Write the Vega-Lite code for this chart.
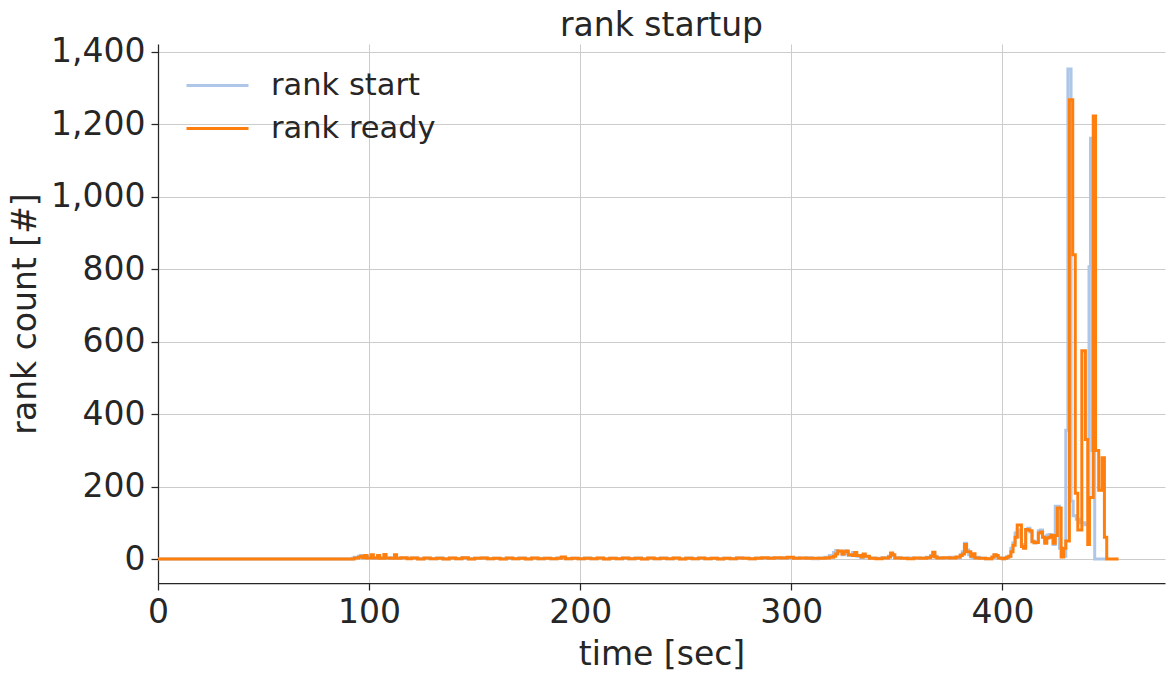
{
  "$schema": "https://vega.github.io/schema/vega-lite/v6.json",
  "autosize": {"type": "none"},
  "padding": {"left": 158, "top": 44, "right": 10, "bottom": 95},
  "width": 1007,
  "height": 539,
  "background": "white",
  "title": {"text": "rank startup", "fontSize": 33, "font": "DejaVu Sans", "fontWeight": "normal", "color": "#262626", "offset": -7},
  "datasets": {
    "start": [
      {"t":0,"n":0},{"t":92,"n":2},{"t":93,"n":5},{"t":95,"n":8},{"t":96,"n":10},{"t":97,"n":6},{"t":98,"n":3},{"t":99,"n":8},{"t":101,"n":4},{"t":102,"n":2},{"t":104,"n":6},{"t":105,"n":3},{"t":107,"n":5},{"t":108,"n":2},{"t":110,"n":3},{"t":112,"n":5},{"t":113,"n":2},{"t":115,"n":3},{"t":118,"n":2},{"t":120,"n":3},{"t":123,"n":1},{"t":126,"n":2},{"t":129,"n":1},{"t":132,"n":3},{"t":135,"n":1},{"t":138,"n":2},{"t":141,"n":1},{"t":144,"n":3},{"t":147,"n":1},{"t":150,"n":2},{"t":153,"n":3},{"t":156,"n":1},{"t":159,"n":2},{"t":162,"n":1},{"t":165,"n":2},{"t":168,"n":1},{"t":171,"n":3},{"t":174,"n":1},{"t":177,"n":2},{"t":180,"n":1},{"t":183,"n":2},{"t":186,"n":1},{"t":189,"n":3},{"t":191,"n":4},{"t":193,"n":1},{"t":196,"n":2},{"t":199,"n":1},{"t":202,"n":3},{"t":205,"n":1},{"t":208,"n":2},{"t":211,"n":1},{"t":214,"n":2},{"t":217,"n":1},{"t":220,"n":2},{"t":223,"n":1},{"t":226,"n":3},{"t":229,"n":1},{"t":232,"n":2},{"t":235,"n":1},{"t":238,"n":3},{"t":241,"n":1},{"t":244,"n":2},{"t":247,"n":1},{"t":250,"n":3},{"t":253,"n":1},{"t":256,"n":2},{"t":259,"n":1},{"t":262,"n":2},{"t":265,"n":1},{"t":268,"n":2},{"t":271,"n":1},{"t":274,"n":3},{"t":277,"n":2},{"t":280,"n":1},{"t":283,"n":3},{"t":286,"n":2},{"t":289,"n":3},{"t":292,"n":2},{"t":295,"n":4},{"t":298,"n":2},{"t":301,"n":3},{"t":304,"n":2},{"t":307,"n":4},{"t":310,"n":1},{"t":313,"n":3},{"t":316,"n":5},{"t":318,"n":10},{"t":320,"n":18},{"t":321,"n":24},{"t":322,"n":20},{"t":324,"n":12},{"t":325,"n":22},{"t":326,"n":15},{"t":327,"n":10},{"t":329,"n":18},{"t":330,"n":12},{"t":331,"n":8},{"t":333,"n":4},{"t":334,"n":12},{"t":335,"n":6},{"t":337,"n":3},{"t":340,"n":2},{"t":343,"n":4},{"t":346,"n":8},{"t":347,"n":15},{"t":348,"n":10},{"t":349,"n":4},{"t":352,"n":2},{"t":355,"n":3},{"t":358,"n":2},{"t":361,"n":3},{"t":364,"n":5},{"t":366,"n":10},{"t":367,"n":17},{"t":368,"n":8},{"t":369,"n":4},{"t":372,"n":3},{"t":375,"n":5},{"t":378,"n":4},{"t":380,"n":12},{"t":381,"n":20},{"t":382,"n":44},{"t":383,"n":25},{"t":384,"n":12},{"t":385,"n":6},{"t":386,"n":3},{"t":387,"n":5},{"t":389,"n":2},{"t":392,"n":1},{"t":395,"n":4},{"t":396,"n":11},{"t":397,"n":6},{"t":398,"n":3},{"t":399,"n":2},{"t":400,"n":1},{"t":401,"n":3},{"t":402,"n":6},{"t":403,"n":8},{"t":404,"n":30},{"t":405,"n":45},{"t":406,"n":72},{"t":407,"n":80},{"t":408,"n":62},{"t":409,"n":40},{"t":410,"n":35},{"t":411,"n":82},{"t":412,"n":85},{"t":413,"n":75},{"t":414,"n":50},{"t":415,"n":45},{"t":416,"n":48},{"t":417,"n":78},{"t":418,"n":80},{"t":419,"n":62},{"t":420,"n":50},{"t":421,"n":66},{"t":422,"n":68},{"t":423,"n":60},{"t":424,"n":40},{"t":425,"n":146},{"t":427,"n":30},{"t":428,"n":10},{"t":429,"n":8},{"t":430,"n":356},{"t":431,"n":1353},{"t":432.5,"n":160},{"t":433.5,"n":120},{"t":435,"n":110},{"t":437,"n":100},{"t":439,"n":95},{"t":441,"n":807},{"t":441.7,"n":1162},{"t":442.5,"n":300},{"t":443.7,"n":0},{"t":449,"n":0}
    ],
    "ready": [
      {"t":0,"n":0},{"t":93,"n":3},{"t":95,"n":5},{"t":96,"n":8},{"t":97,"n":4},{"t":98,"n":10},{"t":99,"n":3},{"t":101,"n":12},{"t":102,"n":3},{"t":104,"n":10},{"t":105,"n":2},{"t":107,"n":13},{"t":108,"n":3},{"t":110,"n":2},{"t":112,"n":12},{"t":113,"n":2},{"t":115,"n":4},{"t":118,"n":1},{"t":120,"n":3},{"t":123,"n":0},{"t":126,"n":3},{"t":129,"n":1},{"t":132,"n":2},{"t":135,"n":0},{"t":138,"n":3},{"t":141,"n":1},{"t":144,"n":4},{"t":147,"n":0},{"t":150,"n":2},{"t":153,"n":3},{"t":156,"n":1},{"t":159,"n":2},{"t":162,"n":0},{"t":165,"n":3},{"t":168,"n":1},{"t":171,"n":2},{"t":174,"n":0},{"t":177,"n":3},{"t":180,"n":1},{"t":183,"n":2},{"t":186,"n":1},{"t":189,"n":2},{"t":191,"n":6},{"t":193,"n":1},{"t":196,"n":2},{"t":199,"n":1},{"t":202,"n":2},{"t":205,"n":1},{"t":208,"n":3},{"t":211,"n":0},{"t":214,"n":2},{"t":217,"n":1},{"t":220,"n":3},{"t":223,"n":1},{"t":226,"n":2},{"t":229,"n":0},{"t":232,"n":3},{"t":235,"n":1},{"t":238,"n":2},{"t":241,"n":1},{"t":244,"n":3},{"t":247,"n":0},{"t":250,"n":2},{"t":253,"n":1},{"t":256,"n":3},{"t":259,"n":1},{"t":262,"n":2},{"t":265,"n":0},{"t":268,"n":2},{"t":271,"n":1},{"t":274,"n":3},{"t":277,"n":2},{"t":280,"n":1},{"t":283,"n":2},{"t":286,"n":4},{"t":289,"n":2},{"t":292,"n":4},{"t":295,"n":3},{"t":298,"n":5},{"t":301,"n":2},{"t":304,"n":3},{"t":307,"n":2},{"t":310,"n":2},{"t":313,"n":2},{"t":316,"n":3},{"t":318,"n":5},{"t":320,"n":8},{"t":321,"n":14},{"t":322,"n":22},{"t":324,"n":14},{"t":325,"n":20},{"t":326,"n":22},{"t":327,"n":12},{"t":329,"n":10},{"t":330,"n":18},{"t":331,"n":10},{"t":333,"n":6},{"t":334,"n":14},{"t":335,"n":8},{"t":337,"n":2},{"t":340,"n":1},{"t":343,"n":3},{"t":346,"n":6},{"t":347,"n":17},{"t":348,"n":12},{"t":349,"n":3},{"t":352,"n":2},{"t":355,"n":1},{"t":358,"n":3},{"t":361,"n":2},{"t":364,"n":4},{"t":366,"n":8},{"t":367,"n":19},{"t":368,"n":6},{"t":369,"n":3},{"t":372,"n":4},{"t":375,"n":3},{"t":378,"n":6},{"t":380,"n":10},{"t":381,"n":14},{"t":382,"n":40},{"t":383,"n":20},{"t":384,"n":20},{"t":385,"n":8},{"t":386,"n":15},{"t":387,"n":3},{"t":389,"n":2},{"t":392,"n":1},{"t":395,"n":6},{"t":396,"n":12},{"t":397,"n":10},{"t":398,"n":3},{"t":399,"n":2},{"t":400,"n":1},{"t":401,"n":2},{"t":402,"n":5},{"t":403,"n":8},{"t":404,"n":20},{"t":405,"n":38},{"t":406,"n":60},{"t":407,"n":94},{"t":409,"n":35},{"t":410,"n":30},{"t":411,"n":82},{"t":412,"n":80},{"t":413,"n":78},{"t":414,"n":48},{"t":415,"n":45},{"t":416,"n":46},{"t":417,"n":72},{"t":418,"n":75},{"t":419,"n":60},{"t":420,"n":44},{"t":421,"n":58},{"t":422,"n":60},{"t":423,"n":66},{"t":424,"n":44},{"t":425,"n":65},{"t":426,"n":141},{"t":427.8,"n":6},{"t":429,"n":30},{"t":430,"n":50},{"t":431.7,"n":1268},{"t":433.3,"n":840},{"t":434.5,"n":182},{"t":435.7,"n":80},{"t":437.6,"n":575},{"t":439.3,"n":330},{"t":440.4,"n":40},{"t":441.2,"n":170},{"t":443,"n":1223},{"t":444.1,"n":300},{"t":445.6,"n":190},{"t":447.2,"n":280},{"t":448.3,"n":60},{"t":449.4,"n":0},{"t":455,"n":0}
    ]
  },
  "config": {
    "font": "DejaVu Sans",
    "view": {"stroke": null},
    "axis": {
      "labelFont": "DejaVu Sans", "titleFont": "DejaVu Sans",
      "labelFontSize": 33, "titleFontSize": 33, "titleFontWeight": "normal",
      "labelColor": "#262626", "titleColor": "#262626",
      "domainColor": "#262626", "domainWidth": 1.25,
      "tickColor": "#262626", "tickWidth": 1.25, "tickSize": 7,
      "gridColor": "#cccccc", "gridWidth": 1, "labelPadding": 6
    },
    "legend": {
      "labelFont": "DejaVu Sans", "labelFontSize": 30.5, "labelColor": "#262626", "labelLimit": 0
    }
  },
  "layer": [
    {
      "data": {"name": "start"},
      "mark": {"type": "line", "interpolate": "step-after", "strokeWidth": 3, "clip": true},
      "encoding": {
        "x": {"field": "t", "type": "quantitative",
              "scale": {"domain": [0, 477], "nice": false, "zero": false},
              "axis": {"values": [0, 100, 200, 300, 400], "title": "time [sec]", "titlePadding": 9, "labelFlush": false}},
        "y": {"field": "n", "type": "quantitative",
              "scale": {"domain": [-66, 1422], "nice": false, "zero": false},
              "axis": {"values": [0, 200, 400, 600, 800, 1000, 1200, 1400], "format": ",d", "title": "rank count [#]", "titlePadding": 8}},
        "color": {"datum": "rank start", "type": "nominal",
                  "scale": {"domain": ["rank start", "rank ready"], "range": ["#aec7e8", "#ff7f0e"]},
                  "legend": {"title": null, "orient": "none", "legendX": 27, "legendY": 20, "symbolType": "stroke", "symbolSize": 3844, "symbolStrokeWidth": 3, "labelOffset": 21, "rowPadding": 0, "clipHeight": 43, "padding": 0, "labelLimit": 0}}
      }
    },
    {
      "data": {"name": "ready"},
      "mark": {"type": "line", "interpolate": "step-after", "strokeWidth": 3, "clip": true},
      "encoding": {
        "x": {"field": "t", "type": "quantitative"},
        "y": {"field": "n", "type": "quantitative"},
        "color": {"datum": "rank ready", "type": "nominal"}
      }
    }
  ]
}
